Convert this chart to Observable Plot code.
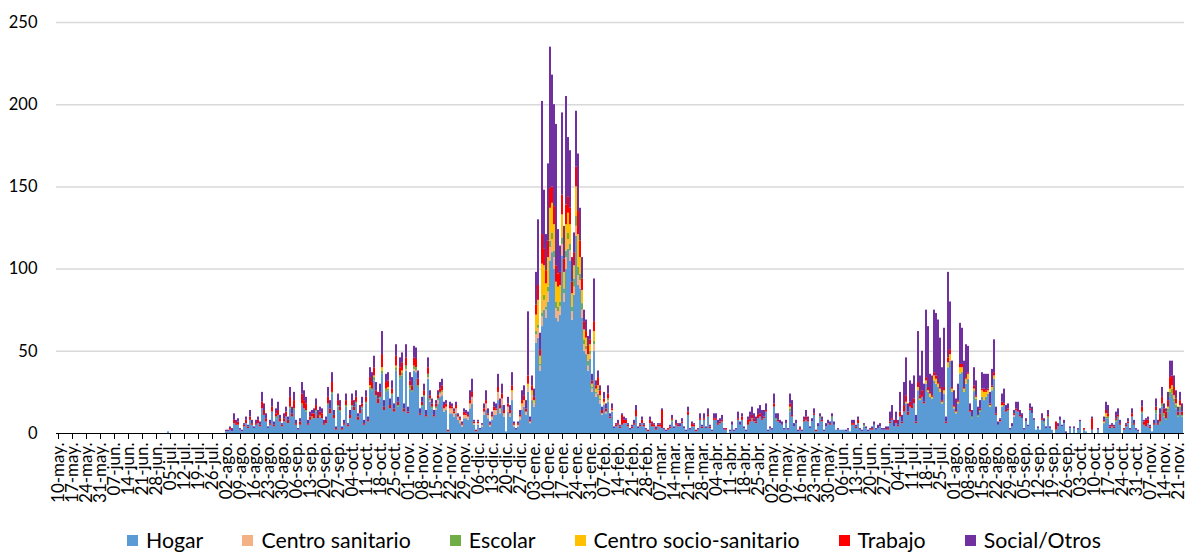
<!DOCTYPE html>
<html><head><meta charset="utf-8">
<script src="https://cdn.jsdelivr.net/npm/d3@7"></script>
<script src="https://cdn.jsdelivr.net/npm/@observablehq/plot@0.6"></script>
<style>
body{margin:0;background:#fff;font-family:Lato,sans-serif;}
#wrap{position:relative;width:1187px;height:555px;overflow:hidden;}
#legend{position:absolute;left:127px;top:527px;display:flex;font-size:21.3px;color:#000;line-height:26px;}
.item{display:flex;align-items:center;margin-right:39px;white-space:nowrap;}
.sw{width:11px;height:11px;margin-right:8px;}
</style></head><body>
<div id="wrap"><div id="chart"></div><div id="legend"></div></div>
<script>
// ---- categories, colours, tick labels ----
const categories = ["Hogar","Centro sanitario","Escolar","Centro socio-sanitario","Trabajo","Social/Otros"];
const colors = ["#5B9BD5","#F4B183","#70AD47","#FFC000","#FF0000","#7030A0"];
const monthAbbr = ["ene","feb","mar","abr","may","jun","jul","ago","sep","oct","nov","dic"];
const yTicks = [0,50,100,150,200,250];
const firstDay = Date.UTC(2020,4,10);   // day index 0 = 10-may-2020
const dataStart = 49;                    // first day of the daily arrays (28-jun-2020)
const lastDay = 562;                     // 23-nov-2021
const parse = s => s.trim().split(/\s+/).map(Number);

// ---- daily values, one line per week (Sunday..Saturday) ----
const hogar = parse(`
0 0 0 0 0 0 1
0 0 0 0 0 0 0
0 0 0 0 0 0 0
0 0 0 0 0 0 0
0 0 0 0 0 0 0
1 1 2 1 6 5 5
2 1 4 6 3 8 5
3 5 6 4 15 11 7
3 5 13 4 9 11 7
4 7 10 6 15 10 14
5 2 5 17 15 13 5
8 9 9 13 9 10 9
5 6 17 12 24 9 2
16 13 2 5 16 4 9
16 14 18 8 12 15 5
18 7 27 26 32 22 18
21 36 14 25 26 15 23
13 38 16 33 35 13 38
12 27 25 38 37 28 11
16 22 10 33 19 15 10
14 18 22 23 13 14 1
12 12 10 12 8 6 4
9 9 8 15 18 5 1
5 2 4 11 14 9 4
8 11 11 20 12 17 10
1 13 10 20 4 2 4
8 14 16 11 25 6 20
16 55 58 38 65 75 70
80 105 110 100 70 68 72
108 80 100 112 105 69 84
120 90 88 70 50 48 38
45 25 50 22 24 18 11
17 12 19 9 13 3 4
5 3 5 6 6 4 2
3 5 10 3 4 6 4
2 1 6 4 4 2 4
4 3 2 1 2 3 7
3 5 4 4 6 3 1
11 2 4 4 1 2 8
3 8 3 10 3 1 8
8 5 6 7 2 2 0
1 5 1 2 8 5 8
3 1 5 7 9 7 6
9 10 8 9 13 1 3
2 16 8 7 6 5 2
6 2 13 10 4 6 1
2 1 7 8 7 3 7
11 1 4 9 7 1 4
6 5 9 5 2 2 2
2 2 1 2 1 5 5
3 6 2 1 4 3 1
2 2 5 2 3 4 2
2 2 2 6 8 4 6
4 10 6 13 18 11 16
15 18 6 26 20 22 18
30 25 22 21 32 30 28
25 18 24 6 40 44 25
15 12 18 36 37 25 30
33 13 9 25 20 10 13
22 20 22 24 16 26 33
11 5 7 16 17 13 14
2 4 10 14 13 10 9
2 7 4 14 12 8 2
3 2 8 6 3 9 3
2 0 2 4 8 4 6
0 0 3 0 3 0 2
7 0 2 1 0 0 2
0 0 2 0 0 6 9
9 3 4 3 7 9 5
0 2 4 6 2 10 5
2 1 0 12 5 4 6
3 1 5 12 5 6 16
10 8 13 22 24 19 15
10 14 10`);

const centroSanitario = parse(`
0 0 0 0 0 0 0
0 0 0 0 0 0 0
0 0 0 0 0 0 0
0 0 0 0 0 0 0
0 0 0 0 0 0 0
0 0 0 0 0 0 0
0 0 0 0 0 0 0
0 0 0 0 0 0 0
0 0 0 0 0 0 0
0 0 0 0 0 0 0
0 0 0 0 0 0 0
0 0 0 0 0 0 0
0 0 0 0 0 0 0
0 0 0 0 0 0 0
0 0 0 0 0 0 0
0 0 0 0 0 0 0
0 0 0 0 0 0 0
0 0 0 0 0 0 1
0 0 0 1 1 0 0
0 0 0 1 1 0 0
1 2 2 2 2 2 0
3 3 2 3 2 2 1
2 2 2 3 4 1 0
1 0 1 2 4 2 1
2 3 3 5 3 4 2
0 3 2 5 1 0 1
2 3 3 2 3 1 3
2 5 6 3 6 6 5
6 8 8 7 6 6 5
7 5 7 6 6 5 5
6 6 5 5 4 3 3
3 2 4 2 2 2 1
1 1 1 0 1 0 0
0 0 0 0 0 0 0
0 0 0 0 0 0 0
0 0 0 0 0 0 0
0 0 0 0 0 0 0
0 0 0 0 0 0 0
0 0 0 0 0 0 0
0 0 0 0 0 0 0
0 0 0 0 0 0 0
0 0 0 0 0 0 0
0 0 0 0 0 0 0
0 0 0 0 0 0 0
0 0 0 0 0 0 0
0 0 0 0 0 0 0
0 0 0 0 0 0 0
0 0 0 0 0 0 0
0 0 0 0 0 0 0
0 0 0 0 0 0 0
0 0 0 0 0 0 0
0 0 0 0 0 0 0
0 0 0 0 0 0 0
0 0 0 0 0 0 0
0 0 0 0 0 0 0
0 0 0 0 0 0 0
0 0 0 0 0 0 0
0 0 0 0 0 0 0
0 0 0 0 0 0 0
0 0 0 0 0 0 0
0 0 0 0 0 0 0
0 0 1 0 0 0 0
0 0 0 0 0 0 0
0 0 0 0 0 0 0
0 0 0 0 0 0 0
0 0 0 0 0 0 0
0 0 0 0 0 0 0
0 0 0 0 0 0 0
0 0 0 0 0 0 0
0 0 0 0 0 0 0
0 0 0 0 0 0 0
0 0 0 0 0 0 0
0 0 0 0 0 0 0
0 0 0`);

const escolar = parse(`
0 0 0 0 0 0 0
0 0 0 0 0 0 0
0 0 0 0 0 0 0
0 0 0 0 0 0 0
0 0 0 0 0 0 0
0 0 0 0 0 0 0
0 0 0 0 0 0 0
0 0 0 0 0 0 0
0 0 0 0 1 0 0
0 0 0 0 1 0 1
0 0 0 1 0 1 0
0 1 0 1 0 1 0
0 0 1 0 1 0 0
1 1 0 0 1 0 0
1 0 1 0 0 1 0
1 0 1 1 2 1 0
1 2 0 2 1 0 1
0 2 1 2 2 0 2
0 2 1 2 2 1 0
1 1 0 2 1 1 0
1 1 1 1 0 0 0
0 0 0 0 0 0 0
0 0 0 0 0 0 0
0 0 0 0 0 0 0
0 0 0 0 0 0 0
0 0 0 0 0 0 0
0 0 0 0 0 0 0
0 2 2 1 2 3 2
3 4 4 4 4 3 3
4 3 4 4 4 3 5
6 5 4 4 3 2 3
2 1 2 1 1 1 0
0 0 1 0 0 0 0
0 0 0 0 0 0 0
0 0 0 0 0 0 0
0 0 0 0 0 0 0
0 0 0 0 0 0 1
0 0 0 0 0 0 0
0 0 0 0 0 0 0
0 0 0 0 0 0 0
0 0 0 0 0 0 0
0 0 0 0 0 0 0
0 0 0 0 0 0 0
0 0 0 0 0 0 0
0 0 1 0 0 0 0
0 0 2 0 0 0 0
0 0 0 0 0 0 0
0 0 0 1 0 0 0
0 0 1 0 0 0 0
0 0 0 0 0 0 0
0 0 0 0 1 0 0
0 0 0 0 0 0 0
0 0 0 0 0 0 0
0 0 0 0 0 0 0
0 0 0 0 0 0 0
0 0 0 0 0 0 0
0 0 0 0 0 0 0
0 0 0 0 0 0 0
0 0 1 1 1 1 1
0 0 0 0 0 0 0
0 0 0 0 0 0 0
0 0 0 0 0 0 0
0 0 0 0 0 0 0
0 0 0 1 0 1 0
0 0 0 0 0 0 0
0 0 0 0 0 0 0
0 0 0 0 0 0 0
0 0 0 0 0 0 1
1 0 0 0 1 1 0
0 0 0 0 0 0 0
0 0 0 1 0 0 0
0 0 0 2 0 1 2
2 1 2 3 3 2 2
1 2 1`);

const centroSocioSanitario = parse(`
0 0 0 0 0 0 0
0 0 0 0 0 0 0
0 0 0 0 0 0 0
0 0 0 0 0 0 0
0 0 0 0 0 0 0
0 0 0 0 0 0 0
0 0 0 0 0 0 0
0 0 0 0 0 0 0
0 0 0 0 0 0 0
0 0 0 0 0 0 0
0 0 0 0 0 0 0
0 0 0 0 0 0 0
0 0 0 0 0 0 0
0 0 0 0 0 0 0
0 0 0 0 0 0 0
0 0 1 0 1 0 0
0 2 0 0 1 0 0
0 1 0 0 1 0 0
0 0 0 0 0 0 0
0 0 0 0 0 0 0
0 0 0 0 0 0 0
0 0 0 0 0 0 0
0 0 0 0 0 0 0
0 0 0 0 0 0 0
0 0 0 0 0 0 0
0 0 0 1 0 0 0
0 1 1 0 2 0 3
2 10 15 5 30 18 14
18 20 18 16 12 12 10
14 10 16 12 12 8 8
18 20 10 8 6 5 4
4 2 6 2 2 2 0
1 0 0 0 0 0 0
0 0 0 0 0 0 0
0 0 0 0 0 0 0
0 0 0 0 0 0 0
0 0 0 0 0 0 0
0 0 0 0 0 0 0
0 0 0 0 0 0 0
0 0 0 0 0 0 0
0 0 0 0 0 0 0
0 0 0 0 0 0 0
0 0 0 0 0 0 0
0 0 0 0 0 0 0
0 0 0 0 0 0 0
0 0 1 0 0 0 0
0 0 0 0 0 0 0
0 0 0 0 0 0 0
0 0 0 0 0 0 0
0 0 0 0 0 0 0
0 0 0 0 0 0 0
0 0 0 0 0 0 0
0 0 0 0 0 0 0
0 0 0 0 1 0 0
0 0 0 2 1 0 0
2 1 2 1 3 3 2
2 1 2 0 3 4 2
1 1 1 4 3 2 3
3 0 0 1 1 0 0
4 5 3 2 1 2 2
0 0 0 1 0 0 0
0 0 0 0 0 0 0
0 0 0 0 0 0 0
0 0 0 0 0 0 0
0 0 0 0 0 0 0
0 0 0 0 0 0 0
0 0 0 0 0 0 0
0 0 0 0 0 1 2
0 0 0 0 0 0 0
0 0 0 0 0 0 0
0 0 0 0 0 0 0
0 0 0 0 0 0 0
0 0 1 2 2 2 1
0 1 0`);

const trabajo = parse(`
0 0 0 0 0 0 0
0 0 0 0 0 0 0
0 0 0 0 0 0 0
0 0 0 0 0 0 0
0 0 0 0 0 0 0
0 0 1 0 2 1 2
0 0 1 2 1 2 1
0 1 2 1 4 3 2
0 1 3 1 2 3 2
1 2 3 2 6 2 5
1 0 2 6 5 4 1
2 2 3 3 2 2 3
1 2 4 3 6 2 1
3 2 1 1 3 1 2
3 2 3 2 2 2 1
3 1 5 4 5 3 3
3 8 2 4 4 2 3
2 6 2 5 5 2 5
1 3 3 5 5 4 1
2 3 1 4 2 2 1
2 2 2 3 2 2 1
2 1 1 2 1 1 1
2 1 1 2 3 1 1
1 0 0 2 2 1 1
1 2 1 3 2 3 2
0 2 2 3 1 0 1
1 2 3 2 5 1 3
2 6 9 4 18 10 8
10 12 10 11 10 8 8
12 8 12 10 10 7 8
12 14 10 7 5 4 5
3 2 6 2 5 3 2
2 2 3 1 1 0 1
1 1 6 2 2 1 0
1 1 4 0 1 2 1
0 1 2 2 1 1 1
1 11 0 0 1 1 1
0 1 1 0 1 0 0
2 0 2 1 1 0 1
1 1 0 1 1 0 1
1 1 1 1 0 1 0
0 0 0 0 1 0 2
0 0 3 2 2 2 1
2 2 1 1 1 0 0
0 2 0 1 0 0 0
0 0 2 1 0 0 0
1 0 1 2 1 0 0
1 1 0 0 1 0 0
0 1 0 0 0 0 0
0 0 0 0 0 1 1
1 2 0 0 0 0 0
0 1 0 0 0 0 0
0 0 1 1 1 0 2
1 3 1 4 4 2 3
2 3 1 3 2 4 1
2 2 1 1 2 2 1
1 1 2 1 3 3 1
1 1 1 2 2 1 1
1 1 0 2 1 0 1
1 2 1 1 1 1 2
1 0 1 2 1 1 1
0 0 1 1 1 1 0
0 0 0 1 0 0 0
0 0 1 0 0 1 0
0 0 5 0 0 0 0
0 0 0 0 0 0 0
0 0 1 0 0 0 7
0 0 0 0 0 1 2
2 1 1 1 1 1 1
0 1 1 1 0 2 1
0 0 0 3 2 4 2
1 0 1 2 1 5 4
3 4 4 7 6 5 3
2 3 2`);

const socialOtros = parse(`
0 0 0 0 0 0 0
0 0 0 0 0 0 0
0 0 0 0 0 0 0
0 0 0 0 0 0 0
0 0 0 0 0 0 0
1 1 1 2 4 2 2
1 1 1 2 1 4 2
1 2 2 2 6 4 3
1 2 5 2 3 5 2
1 3 3 2 6 4 5
2 1 2 7 6 4 2
3 2 3 4 3 3 3
2 2 6 5 6 3 1
4 4 1 2 4 1 3
4 4 4 2 3 4 2
4 2 6 6 7 5 4
5 14 4 5 5 4 5
3 7 3 6 6 3 8
3 5 5 7 7 5 3
3 4 3 6 3 3 3
2 3 4 4 2 2 0
2 2 2 2 1 1 1
2 2 2 6 8 1 0
1 1 1 3 6 3 1
2 3 3 8 4 6 3
0 4 3 8 1 1 1
3 6 6 5 39 2 6
5 20 40 10 81 36 22
47 86 68 62 86 27 16
50 20 66 36 35 15 12
34 35 20 13 7 7 6
6 4 26 3 4 3 2
4 3 5 2 3 1 1
2 1 1 2 1 1 1
1 2 3 1 1 2 1
1 0 2 1 1 1 1
1 1 1 1 0 1 2
1 2 1 2 2 1 1
3 1 1 1 0 1 3
1 3 1 4 1 1 3
3 2 2 3 1 0 0
1 2 1 1 4 2 2
1 1 2 4 5 3 3
4 5 5 4 4 1 1
1 6 3 4 2 2 1
2 1 6 9 2 2 1
1 1 2 4 2 1 2
3 0 2 2 2 1 2
2 1 2 2 0 1 0
0 0 1 1 0 2 2
1 2 1 1 1 1 1
1 1 2 1 2 2 1
1 2 1 6 8 4 5
3 12 4 14 23 5 13
13 14 4 31 12 24 11
41 37 11 12 38 38 38
30 20 36 3 52 29 16
9 7 10 25 22 16 20
16 4 4 11 9 5 5
10 9 10 9 7 10 20
4 2 1 5 9 3 3
1 2 2 4 5 3 3
1 2 1 3 4 1 0
1 0 3 2 1 3 1
0 0 0 2 2 1 2
1 0 1 0 1 0 1
1 0 0 0 0 0 1
0 0 1 0 0 2 5
5 1 1 1 4 4 2
0 0 1 2 1 3 2
1 1 0 4 1 1 2
1 0 2 5 2 3 6
3 2 5 10 9 7 5
3 5 5`);

const series = [hogar, centroSanitario, escolar, centroSocioSanitario, trabajo, socialOtros];

// long table for the library
const rows = [];
series.forEach((arr, k) => arr.forEach((v, i) => {
  if (v > 0) rows.push({day: dataStart + i, cat: categories[k], value: v});
}));

const days = d3.range(0, lastDay + 1);
const weekTicks = d3.range(0, lastDay + 1, 7);
const fmt = i => {
  const dt = new Date(firstDay + i * 864e5);
  return String(dt.getUTCDate()).padStart(2, "0") + "-" + monthAbbr[dt.getUTCMonth()] + ".";
};

const chart = Plot.plot({
  width: 1187, height: 520,
  marginLeft: 56, marginRight: 3, marginTop: 22, marginBottom: 87,
  x: {type: "band", domain: days, paddingInner: 0.25, paddingOuter: 0, axis: null},
  y: {domain: [0, 250], axis: null},
  color: {domain: categories, range: colors},
  style: {fontFamily: "Lato, sans-serif", fontSize: "16px", color: "#000", background: "#fff"},
  marks: [
    Plot.gridY(yTicks.slice(1), {stroke: "#d9d9d9", strokeOpacity: 1, strokeWidth: 1.5}),
    Plot.barY(rows, {x: "day", y: "value", fill: "cat", order: categories}),
    Plot.ruleY([0], {stroke: "#000", strokeWidth: 1}),
    Plot.axisX(weekTicks, {tickSize: 6, tickRotate: -90, tickFormat: fmt, tickPadding: 3, fontSize: 17, label: null, stroke: "#000"}),
    Plot.axisY(yTicks, {tickSize: 0, tickPadding: 19, fontSize: 16.5, label: null})
  ]
});
document.getElementById("chart").appendChild(chart);

const legend = document.getElementById("legend");
categories.forEach((c, k) => {
  const it = document.createElement("div"); it.className = "item";
  const sw = document.createElement("div"); sw.className = "sw"; sw.style.background = colors[k];
  const tx = document.createElement("span"); tx.textContent = c;
  it.appendChild(sw); it.appendChild(tx); legend.appendChild(it);
});
</script>
</body></html>
